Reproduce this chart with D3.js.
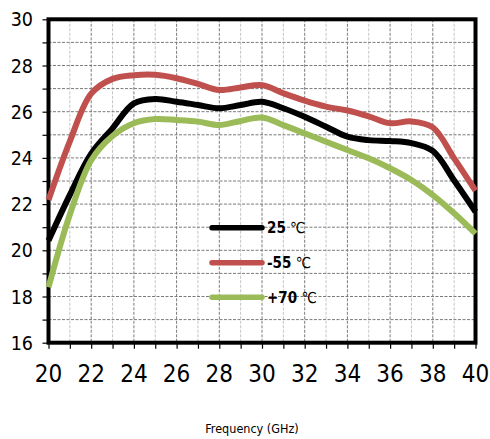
<!DOCTYPE html>
<html>
<head>
<meta charset="utf-8">
<script src="https://cdn.jsdelivr.net/npm/d3@7"></script>
<style>
  html, body { margin: 0; padding: 0; background: #fff; }
  svg { display: block; }
  text { font-family: "DejaVu Sans Condensed", "DejaVu Sans", sans-serif; fill: #000; }
</style>
</head>
<body>
<svg id="chart" width="490" height="439"></svg>
<script>
// Frequency points (GHz)
const freq = [20, 21, 22, 23, 24, 25, 26, 27, 28, 29, 30, 31, 32, 33, 34, 35, 36, 37, 38, 39, 40];

// Gain (dB) at each temperature
const gain25 = [20.42, 22.4, 24.18, 25.28, 26.36, 26.55, 26.43, 26.29, 26.15, 26.29, 26.43, 26.15, 25.78, 25.35, 24.92, 24.77, 24.73, 24.64, 24.3, 23.02, 21.67];
const gainM55 = [22.18, 24.72, 26.78, 27.42, 27.58, 27.6, 27.45, 27.2, 26.94, 27.05, 27.15, 26.8, 26.48, 26.22, 26.05, 25.8, 25.5, 25.58, 25.32, 23.98, 22.58];
const gainP70 = [18.4, 21.55, 23.9, 24.95, 25.5, 25.68, 25.64, 25.57, 25.42, 25.6, 25.75, 25.42, 25.06, 24.7, 24.34, 23.98, 23.55, 23.04, 22.39, 21.6, 20.72];

const xTicks = [20, 22, 24, 26, 28, 30, 32, 34, 36, 38, 40];
const yTicks = [16, 18, 20, 22, 24, 26, 28, 30];

const seriesNames = ["25", "-55", "+70"];
const seriesColors = ["#000000", "#C0504D", "#9BBB59"];
const seriesData = [gain25, gainM55, gainP70];

const svg = d3.select("#chart");
const plotL = 48.5, plotR = 475.5, plotT = 19.3, plotB = 342.7;

const x = d3.scaleLinear().domain([20, 40]).range([plotL, plotR]);
const y = d3.scaleLinear().domain([16, 30]).range([plotB, plotT]);

// grid: minor vertical lines (odd GHz) light, others darker dashed
const grid = svg.append("g");
d3.range(21, 40, 1).forEach(v => {
  grid.append("line")
    .attr("x1", x(v)).attr("x2", x(v)).attr("y1", plotT).attr("y2", plotB)
    .attr("stroke", v % 2 === 0 ? "#7a7a7a" : "#c4c4c4")
    .attr("stroke-width", 1)
    .attr("stroke-dasharray", "3,1.5");
});
d3.range(17, 30, 1).forEach(v => {
  grid.append("line")
    .attr("x1", plotL).attr("x2", plotR).attr("y1", y(v)).attr("y2", y(v))
    .attr("stroke", "#7a7a7a")
    .attr("stroke-width", 1)
    .attr("stroke-dasharray", "3,1.5");
});

// axes
const xAxis = d3.axisBottom(x).tickValues(d3.range(20, 41, 1)).tickSize(6).tickFormat("");
const yAxis = d3.axisLeft(y).tickValues(d3.range(16, 31, 1)).tickSize(6).tickFormat("");

const gx = svg.append("g").attr("transform", `translate(0,${plotB})`).call(xAxis);
const gy = svg.append("g").attr("transform", `translate(${plotL},0)`).call(yAxis);
[gx, gy].forEach(g => {
  g.select(".domain").remove();
  g.selectAll(".tick line").attr("stroke", "#000").attr("stroke-width", 1.2);
});

// tick labels
svg.append("g").selectAll("text").data(xTicks).join("text")
  .attr("x", d => x(d)).attr("y", 382)
  .attr("text-anchor", "middle")
  .attr("font-size", 24)
  .text(d => d);
svg.append("g").selectAll("text").data(yTicks).join("text")
  .attr("x", 33).attr("y", d => y(d) + 7)
  .attr("text-anchor", "end")
  .attr("font-size", 19.5)
  .text(d => d);

// plot frame
svg.append("rect")
  .attr("x", plotL).attr("y", plotT)
  .attr("width", plotR - plotL).attr("height", plotB - plotT)
  .attr("fill", "none").attr("stroke", "#000").attr("stroke-width", 4);

// series lines
const line = d3.line()
  .x((d, i) => x(freq[i]))
  .y(d => y(d))
  .curve(d3.curveCatmullRom.alpha(0.5));

svg.append("g").selectAll("path").data(seriesData).join("path")
  .attr("d", d => line(d))
  .attr("fill", "none")
  .attr("stroke", (d, i) => seriesColors[i])
  .attr("stroke-width", 6)
  .attr("stroke-linejoin", "round");

// legend
const legend = svg.append("g");
const legY = [227.7, 262.7, 297.3];
seriesNames.forEach((name, i) => {
  legend.append("line")
    .attr("x1", 212).attr("x2", 262)
    .attr("y1", legY[i]).attr("y2", legY[i])
    .attr("stroke", seriesColors[i]).attr("stroke-width", 5.5)
    .attr("stroke-linecap", "round");
  const t = legend.append("text")
    .attr("x", 267).attr("y", legY[i] + 5.5)
    .attr("font-size", 15);
  t.append("tspan").attr("font-weight", "bold").text(name);
  t.append("tspan").text(" \u2103");
});

// axis title
svg.append("text")
  .attr("x", 252).attr("y", 433)
  .attr("text-anchor", "middle")
  .attr("font-size", 12.5)
  .text("Frequency (GHz)");
</script>
</body>
</html>
